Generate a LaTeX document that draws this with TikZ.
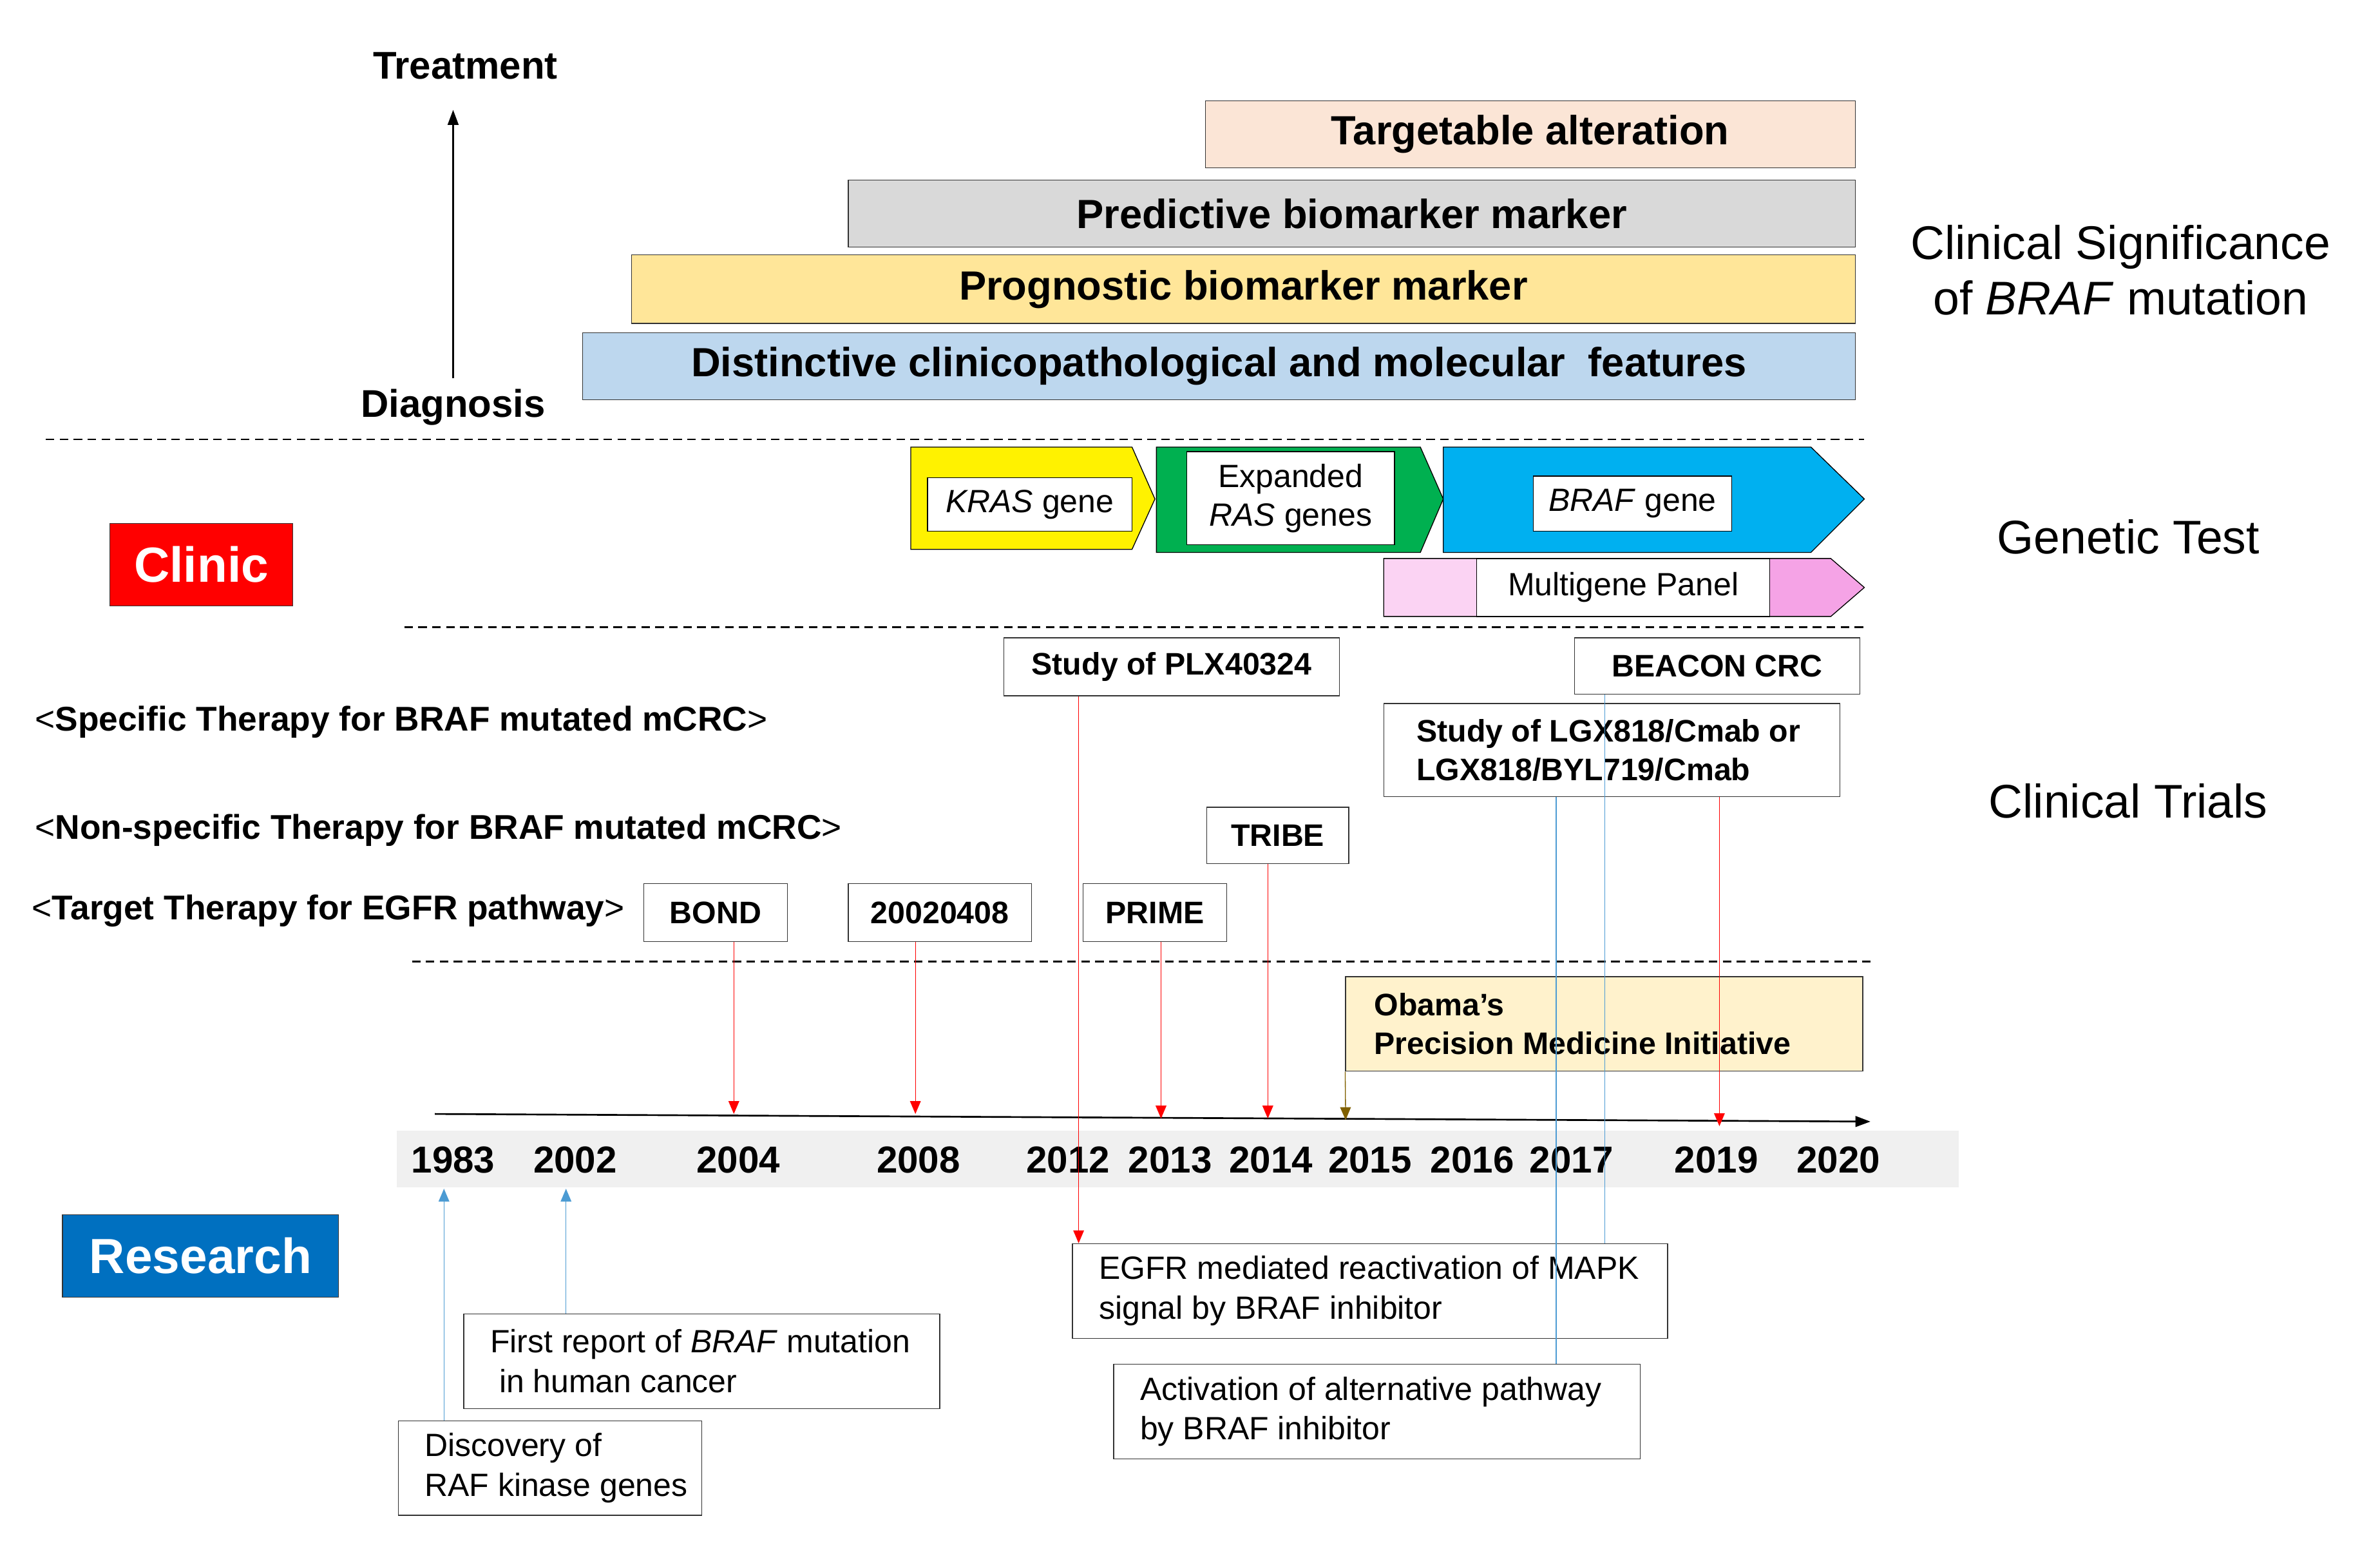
\documentclass[tikz,border=0pt]{standalone}
\usepackage{fontspec}
\setmainfont{Liberation Sans}
\usetikzlibrary{fit,arrows.meta}
\definecolor{peach}{HTML}{FBE5D6}
\definecolor{lgray}{HTML}{D9D9D9}
\definecolor{lyel}{HTML}{FFE699}
\definecolor{lblue}{HTML}{BDD7EE}
\definecolor{cream}{HTML}{FFF2CC}
\definecolor{rblue}{HTML}{0070C0}
\definecolor{gband}{HTML}{F0F0F0}
\definecolor{tblue}{HTML}{00B0F0}
\definecolor{tgreen}{HTML}{00B050}
\definecolor{lpink}{HTML}{FBD3F3}
\definecolor{dpink}{HTML}{F5A3E6}
\definecolor{brownish}{HTML}{806000}
\tikzset{
  box/.style={draw=black!80, inner sep=0pt},
  bar/.style={font=\fontsize{19}{22}\selectfont\bfseries},
  trial/.style={font=\fontsize{14.5}{18}\selectfont\bfseries, align=left},
  note/.style={font=\fontsize{15}{18.5}\selectfont, align=left},
  gene/.style={font=\fontsize{15}{18}\selectfont, align=center},
  tag/.style={anchor=west, font=\fontsize{16}{19}\selectfont\bfseries},
  side/.style={font=\fontsize{22}{26}\selectfont, align=center},
  year/.style={font=\fontsize{17.5}{20}\selectfont\bfseries},
  dashsep/.style={thick, dash pattern=on 4pt off 2.5pt},
  redarr/.style={red, -{Triangle[width=5pt,length=6pt]}},
  bluearr/.style={rblue!70, -{Triangle[width=5pt,length=6pt]}},
}
\begin{document}
\begin{tikzpicture}[x=0.025cm,y=-0.025cm]
\useasboundingbox (0,0) rectangle (1560,1017);

% clinical significance bars
\node[box, fill=peach, fit={(790,66)(1216,110)}] (targ) {};
\node[bar] at (targ.center) {Targetable alteration};
\node[box, fill=lgray, fit={(556,118)(1216,162)}] (pred) {};
\node[bar] at (pred.center) {Predictive biomarker marker};
\node[box, fill=lyel, fit={(414,167)(1216,212)}] (prog) {};
\node[bar] at (prog.center) {Prognostic biomarker marker};
\node[box, fill=lblue, fit={(382,218)(1216,262)}] (dist) {};
\node[bar] at (dist.center) {Distinctive clinicopathological and molecular\ \ features};
\node[font=\fontsize{18}{21}\selectfont\bfseries] (treat) at (305,43) {Treatment};
\node[font=\fontsize{18}{21}\selectfont\bfseries] (diag) at (297,267) {Diagnosis};
\draw[thick, -{Triangle[width=5pt,length=7pt]}] (297,248) -- (297,72);
\node[side] (sig) at (1390,177) {Clinical Significance\\of \textit{BRAF} mutation};

\draw[dashsep] (30,288) -- (1222,288);

% genetic tests
\draw[fill=yellow] (597,293) -- (742,293) -- (757,327) -- (742,360) -- (597,360) -- cycle;
\draw[fill=tgreen] (758,293) -- (931,293) -- (946,327) -- (931,362) -- (758,362) -- cycle;
\draw[fill=tblue] (946,293) -- (1187,293) -- (1222,327) -- (1187,362) -- (946,362) -- cycle;
\fill[lpink] (907,366) rectangle (968,404);
\fill[dpink] (1160,366) -- (1200,366) -- (1222,385) -- (1200,404) -- (1160,404) -- cycle;
\draw (907,366) -- (1200,366) -- (1222,385) -- (1200,404) -- (907,404) -- cycle;
\node[box, draw=black, fill=white, fit={(608,313)(742,348)}] (kras) {};
\node[gene] at (kras.center) {\textit{KRAS} gene};
\node[box, draw=black, fill=white, fit={(778,296)(914,357)}] (ras) {};
\node[gene] at (ras.center) {Expanded\\\textit{RAS} genes};
\node[box, draw=black, fill=white, fit={(1005,312)(1135,348)}] (braf) {};
\node[gene] at (braf.center) {\textit{BRAF} gene};
\node[box, draw=black, fill=white, fit={(968,366)(1160,404)}] (panel) {};
\node[gene] at (panel.center) {Multigene Panel};
\node[side] (gen) at (1395,352) {Genetic Test};
\node[box, fill=red, fit={(72,343)(192,397)}] (clinic) {};
\node[text=white, font=\fontsize{23}{27}\selectfont\bfseries] at (clinic.center) {Clinic};

\draw[dashsep] (265,411) -- (1222,411);

% clinical trials
\node[box, fill=white, fit={(658,418)(878,456)}] (plx) {};
\node[trial] at (plx.center) {Study of PLX40324};
\node[box, fill=white, fit={(1032,418)(1219,455)}] (beacon) {};
\node[trial] at (beacon.center) {BEACON CRC};
\node[box, fill=white, fit={(907,461)(1206,522)}] (lgx) {};
\node[trial, anchor=west] at ([xshift=12pt]lgx.west) {Study of LGX818/Cmab or\\LGX818/BYL719/Cmab};
\node[box, fill=white, fit={(791,529)(884,566)}] (tribe) {};
\node[trial] at (tribe.center) {TRIBE};
\node[box, fill=white, fit={(422,579)(516,617)}] (bond) {};
\node[trial] at (bond.center) {BOND};
\node[box, fill=white, fit={(556,579)(676,617)}] (ct) {};
\node[trial] at (ct.center) {20020408};
\node[box, fill=white, fit={(710,579)(804,617)}] (prime) {};
\node[trial] at (prime.center) {PRIME};
\node[tag] (spec) at (18,473) {\textmd{<}Specific Therapy for BRAF mutated mCRC\textmd{>}};
\node[tag] (nspec) at (18,544) {\textmd{<}Non-specific Therapy for BRAF mutated mCRC\textmd{>}};
\node[tag] (egfrt) at (16,597) {\textmd{<}Target Therapy for EGFR pathway\textmd{>}};
\node[side] (ctr) at (1395,525) {Clinical Trials};

\draw[dashsep] (270,630) -- (1228,630);

\node[box, fill=cream, fit={(882,640)(1221,702)}] (obama) {};
\node[trial, anchor=west] at ([xshift=10pt]obama.west) {Obama's\\Precision Medicine Initiative};

% timeline
\fill[gband] (260,741) rectangle (1284,778);
\draw[thick, -{Triangle[width=5pt,length=7pt]}] (285,730) -- (1226,735);
\foreach \yr/\xx in {1983/297,2002/377,2004/484,2008/602,2012/700,2013/767,2014/833,2015/898,2016/965,2017/1030,2019/1125,2020/1205}
  \node[year] (y\yr) at (\xx,760) {\yr};

\node[box, fill=rblue, fit={(41,796)(222,850)}] (research) {};
\node[text=white, font=\fontsize{23}{27}\selectfont\bfseries] at (research.center) {Research};
\node[box, fill=white, fit={(703,815)(1093,877)}] (egfr) {};
\node[note, anchor=west] at ([xshift=9pt]egfr.west) {EGFR mediated reactivation of MAPK\\signal by BRAF inhibitor};
\node[box, fill=white, fit={(730,894)(1075,956)}] (alt) {};
\node[note, anchor=west] at ([xshift=9pt]alt.west) {Activation of alternative pathway\\by BRAF inhibitor};
\node[box, fill=white, fit={(304,861)(616,923)}] (first) {};
\node[note, anchor=west] at ([xshift=9pt]first.west) {First report of \textit{BRAF} mutation\\\ in human cancer};
\node[box, fill=white, fit={(261,931)(460,993)}] (disc) {};
\node[note, anchor=west] at ([xshift=9pt]disc.west) {Discovery of\\RAF kinase genes};

% connectors
\draw[rblue!70] (lgx.south -| 1020,0) -- (alt.north -| 1020,0);
\draw[rblue!70] (beacon.south -| 1052,0) -- (egfr.north -| 1052,0);
\draw[redarr] (bond.south -| 481,0) -- (481,730);
\draw[redarr] (ct.south -| 600,0) -- (600,730);
\draw[redarr] (prime.south -| 761,0) -- (761,733);
\draw[redarr] (tribe.south -| 831,0) -- (831,733);
\draw[redarr] (plx.south -| 707,0) -- (egfr.north -| 707,0);
\draw[redarr] (lgx.south -| 1127,0) -- (1127,738);
\draw[brownish, -{Triangle[width=5pt,length=6pt]}] (obama.south west) -- (882,734);
\draw[bluearr] (disc.north -| 291,0) -- (291,779);
\draw[bluearr] (first.north -| 371,0) -- (371,779);
\end{tikzpicture}
\end{document}
